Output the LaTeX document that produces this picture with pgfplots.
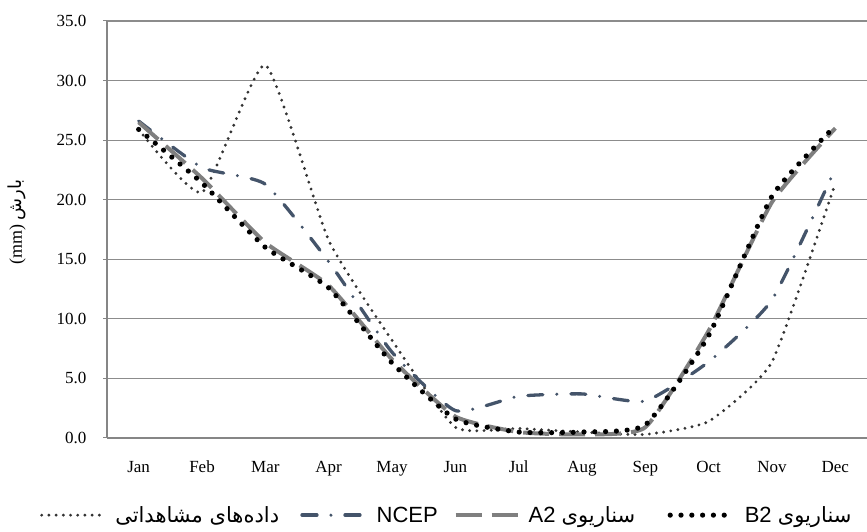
\documentclass[border=0pt]{standalone}
\usepackage{pgfplots}
\pgfplotsset{compat=1.18}
\usepackage{fontspec}
\setmainfont{Liberation Serif}
\newfontfamily\arabicfont[Script=Arabic]{DejaVu Sans}
\newfontfamily\legfont{Liberation Sans}
\TeXXeTstate=1
\definecolor{obs}{HTML}{333333}
\definecolor{ncep}{HTML}{44546A}
\definecolor{atwo}{HTML}{7F7F7F}
\definecolor{gridgray}{HTML}{8C8C8C}
\definecolor{axgray}{HTML}{868686}

\pgfplotstableread{
x obs ncep atwo btwo
0 25.9 26.6 26.5 25.9
1 20.6 22.7 21.8 21.4
2 31.3 21.3 16.4 16.0
3 16.6 14.8 12.8 12.6
4 8.2 7.2 6.6 6.3
5 0.9 2.3 1.8 1.6
6 0.8 3.5 0.5 0.5
7 0.5 3.7 0.3 0.5
8 0.3 3.1 0.9 1.1
9 1.4 6.4 9.0 8.6
10 6.4 11.6 19.8 20.3
11 21.4 22.6 26.0 26.2
}\datatable

\begin{document}
\begin{tikzpicture}
\useasboundingbox (0,0) rectangle (867pt,532pt);
\begin{axis}[
  at={(107pt,94pt)}, anchor=south west,
  scale only axis, width=760pt, height=417pt,
  xmin=-0.5, xmax=11.5, ymin=0, ymax=35,
  xtick={0,...,11},
  xticklabels={Jan,Feb,Mar,Apr,May,Jun,Jul,Aug,Sep,Oct,Nov,Dec},
  ytick={0,5,...,35},
  yticklabel={\pgfmathprintnumber[fixed,fixed zerofill,precision=1,assume math mode=true]{\tick}},
  ymajorgrids,
  grid style={draw=gridgray, line width=1.2pt},
  axis x line*=bottom, axis y line*=left,
  axis line style={draw=axgray, line width=1.4pt, -},
  x tick style={draw=none},
  y tick style={draw=axgray, line width=1pt},
  tick align=outside, major tick length=4pt,
  tick label style={font=\fontsize{17}{20}\selectfont},
  xticklabel style={anchor=base, yshift=-31pt},
  yticklabel shift=13pt,
  ylabel={\fontsize{18}{20}\selectfont (mm) {\arabicfont\beginR بارش\endR}},
  ylabel style={at={(axis description cs:-0.118,0.518)}, anchor=center},
  legend columns=4,
  legend style={at={(axis description cs:-0.088,-0.185)}, anchor=west,
    draw=none, fill=none, inner sep=0pt, outer sep=0pt,
    nodes={inner sep=0pt, outer sep=0pt},
    font=\legfont\fontsize{22}{24}\selectfont},
  legend image code/.code={\draw[#1] (0pt,0pt) -- (64pt,0pt);},
  legend cell align=left,
  smooth, tension=0.3,
]
\addplot[obs, line width=3.2pt, line cap=round, dash pattern=on 0pt off 7.2pt]
  table[x=x, y=obs] {\datatable};
\addlegendentry{\makebox[193pt][l]{\hspace{8pt}{\arabicfont\fontsize{21}{24}\selectfont\beginR داده‌های مشاهداتی\endR}}}
\addplot[ncep, line width=3.3pt, line cap=round, dash pattern=on 15pt off 14pt on 0pt off 14pt]
  table[x=x, y=ncep] {\datatable};
\addlegendentry{\makebox[86pt][l]{\hspace{9pt}NCEP}}
\addplot[atwo, line width=4pt, dash pattern=on 26pt off 10pt]
  table[x=x, y=atwo] {\datatable};
\addlegendentry{\makebox[146pt][l]{\hspace{7pt}A2 {\arabicfont\fontsize{21}{24}\selectfont\beginR سناریوی\endR}}}
\addplot[black, line width=5.2pt, line cap=round, dash pattern=on 0pt off 10.8pt]
  table[x=x, y=btwo] {\datatable};
\addlegendentry{\makebox[146pt][l]{\hspace{8pt}B2 {\arabicfont\fontsize{21}{24}\selectfont\beginR سناریوی\endR}}}
\end{axis}
\end{tikzpicture}
\end{document}
